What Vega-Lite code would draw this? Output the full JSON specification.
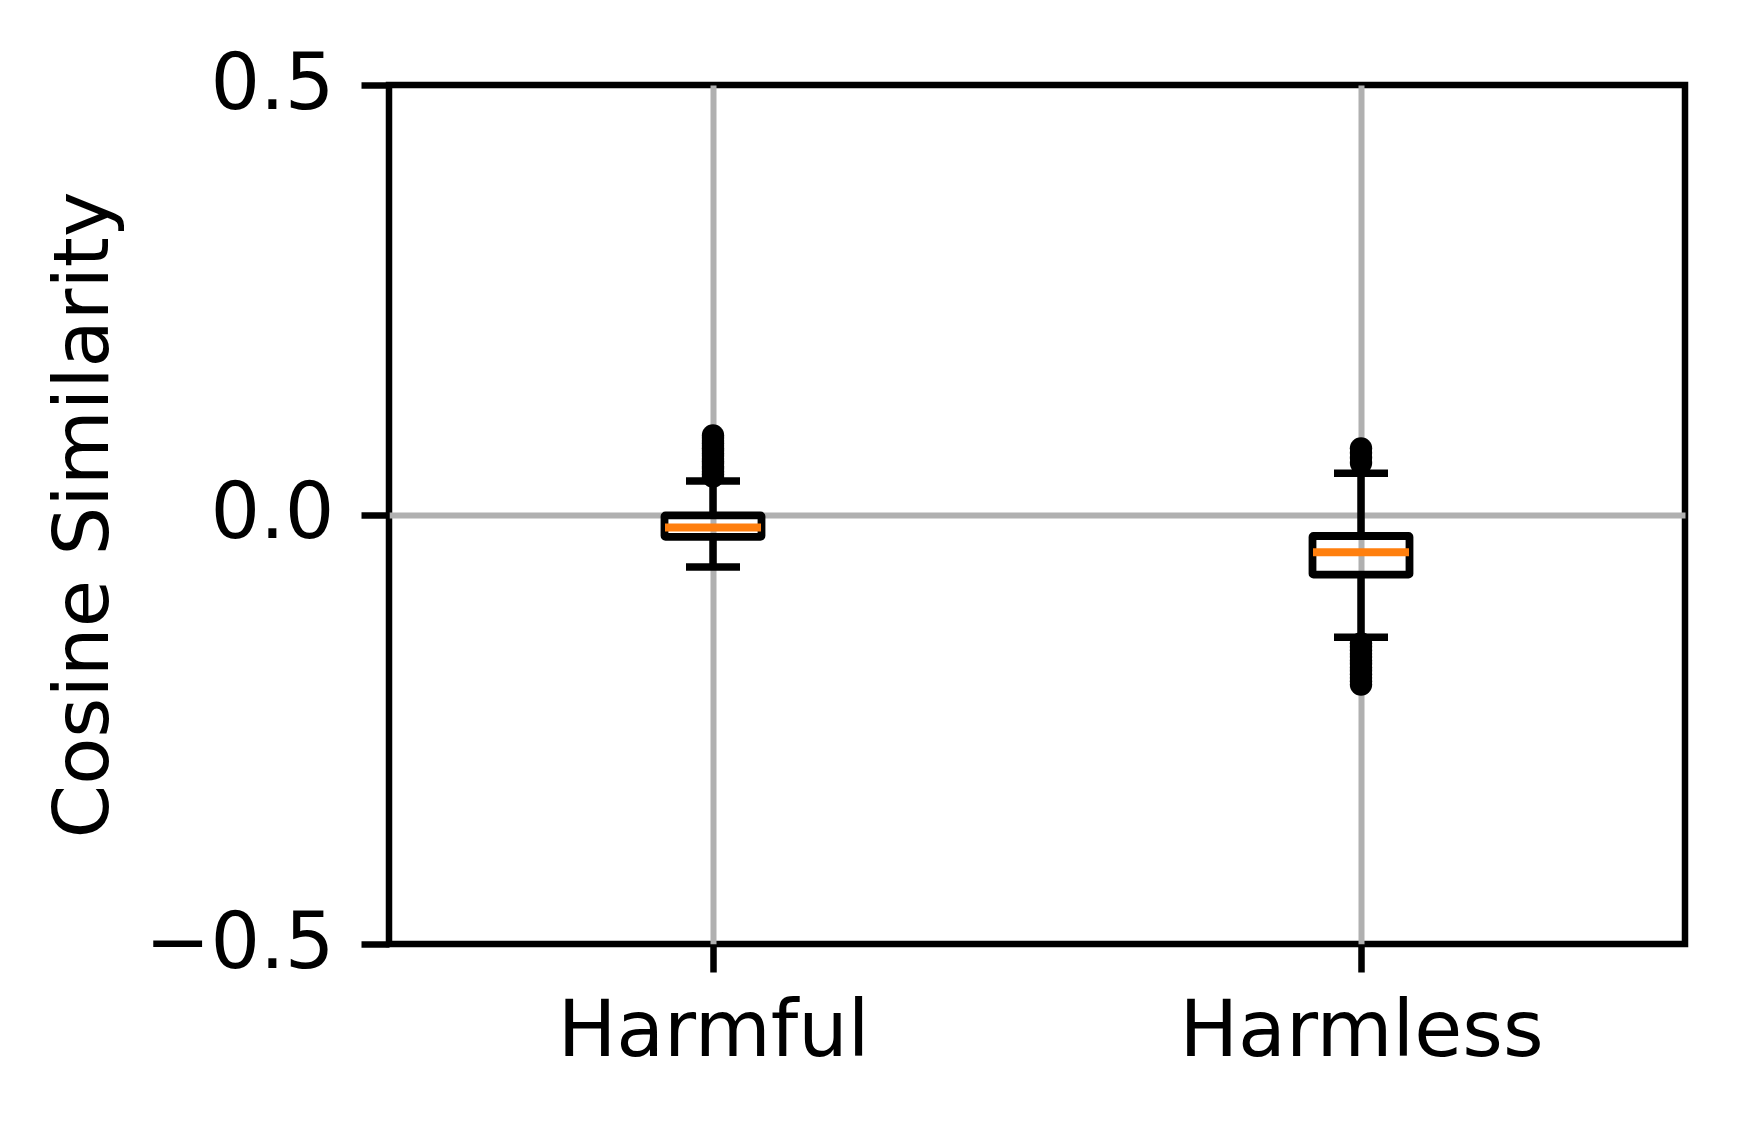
{
  "$schema": "https://vega.github.io/schema/vega-lite/v6.json",
  "autosize": {"type": "none"},
  "width": 1296,
  "height": 859,
  "padding": {"left": 389, "top": 85, "right": 57, "bottom": 186},
  "background": "white",
  "config": {
    "view": {"stroke": "black", "strokeWidth": 6.5},
    "font": "DejaVu Sans",
    "axis": {
      "labelFont": "DejaVu Sans",
      "titleFont": "DejaVu Sans",
      "labelFontSize": 78,
      "titleFontSize": 77,
      "labelLimit": 1000,
      "labelColor": "black",
      "titleColor": "black",
      "titleFontWeight": "normal",
      "domain": false,
      "tickColor": "black",
      "tickWidth": 6.5,
      "tickSize": 28,
      "grid": true,
      "gridColor": "#b0b0b0",
      "gridWidth": 6
    }
  },
  "datasets": {
    "boxes": [
      {"group": "Harmful", "lower": -0.061, "q1": -0.026, "median": -0.015, "q3": -0.001, "upper": 0.039},
      {"group": "Harmless", "lower": -0.143, "q1": -0.070, "median": -0.044, "q3": -0.025, "upper": 0.048}
    ],
    "outliers": [
      {"group": "Harmful", "value": 0.044},
      {"group": "Harmful", "value": 0.047},
      {"group": "Harmful", "value": 0.050},
      {"group": "Harmful", "value": 0.053},
      {"group": "Harmful", "value": 0.056},
      {"group": "Harmful", "value": 0.059},
      {"group": "Harmful", "value": 0.062},
      {"group": "Harmful", "value": 0.065},
      {"group": "Harmful", "value": 0.068},
      {"group": "Harmful", "value": 0.071},
      {"group": "Harmful", "value": 0.074},
      {"group": "Harmful", "value": 0.077},
      {"group": "Harmful", "value": 0.080},
      {"group": "Harmful", "value": 0.083},
      {"group": "Harmful", "value": 0.086},
      {"group": "Harmful", "value": 0.089},
      {"group": "Harmful", "value": 0.092},
      {"group": "Harmless", "value": 0.060},
      {"group": "Harmless", "value": 0.066},
      {"group": "Harmless", "value": 0.072},
      {"group": "Harmless", "value": 0.077},
      {"group": "Harmless", "value": -0.150},
      {"group": "Harmless", "value": -0.154},
      {"group": "Harmless", "value": -0.158},
      {"group": "Harmless", "value": -0.162},
      {"group": "Harmless", "value": -0.166},
      {"group": "Harmless", "value": -0.170},
      {"group": "Harmless", "value": -0.174},
      {"group": "Harmless", "value": -0.178},
      {"group": "Harmless", "value": -0.182},
      {"group": "Harmless", "value": -0.186},
      {"group": "Harmless", "value": -0.190},
      {"group": "Harmless", "value": -0.194},
      {"group": "Harmless", "value": -0.198}
    ]
  },
  "encoding": {
    "x": {
      "field": "group",
      "type": "nominal",
      "sort": ["Harmful", "Harmless"],
      "scale": {"type": "point", "domain": ["Harmful", "Harmless"], "padding": 0.5},
      "axis": {"title": null, "labelAngle": 0, "labelPadding": 21}
    }
  },
  "layer": [
    {
      "data": {"name": "boxes"},
      "mark": {"type": "rule", "color": "black", "strokeWidth": 7.5},
      "encoding": {
        "y": {
          "field": "lower",
          "type": "quantitative",
          "scale": {"domain": [-0.5, 0.5], "nice": false, "zero": false},
          "axis": {
            "title": "Cosine Similarity",
            "values": [-0.5, 0, 0.5],
            "labelExpr": "replace(format(datum.value, '.1f'), '-', '\u2212')",
            "labelPadding": 27,
            "titlePadding": 66,
            "gridColor": {"condition": {"test": "datum.value == 0", "value": "#b0b0b0"}, "value": "transparent"}
          }
        },
        "y2": {"field": "q1"}
      }
    },
    {
      "data": {"name": "boxes"},
      "mark": {"type": "rule", "color": "black", "strokeWidth": 7.5},
      "encoding": {
        "y": {"field": "q3", "type": "quantitative"},
        "y2": {"field": "upper"}
      }
    },
    {
      "data": {"name": "boxes"},
      "mark": {"type": "tick", "color": "black", "size": 54, "thickness": 7.5, "opacity": 1},
      "encoding": {"y": {"field": "lower", "type": "quantitative"}}
    },
    {
      "data": {"name": "boxes"},
      "mark": {"type": "tick", "color": "black", "size": 54, "thickness": 7.5, "opacity": 1},
      "encoding": {"y": {"field": "upper", "type": "quantitative"}}
    },
    {
      "data": {"name": "boxes"},
      "mark": {"type": "bar", "size": 97, "fill": "transparent", "stroke": "black", "strokeWidth": 7.8, "cornerRadius": 1},
      "encoding": {
        "y": {"field": "q1", "type": "quantitative"},
        "y2": {"field": "q3"}
      }
    },
    {
      "data": {"name": "boxes"},
      "mark": {"type": "tick", "color": "#ff7f0e", "size": 96, "thickness": 8, "opacity": 1},
      "encoding": {"y": {"field": "median", "type": "quantitative"}}
    },
    {
      "data": {"name": "outliers"},
      "mark": {"type": "point", "shape": "circle", "filled": true, "color": "black", "size": 500, "opacity": 1},
      "encoding": {"y": {"field": "value", "type": "quantitative"}}
    }
  ]
}
